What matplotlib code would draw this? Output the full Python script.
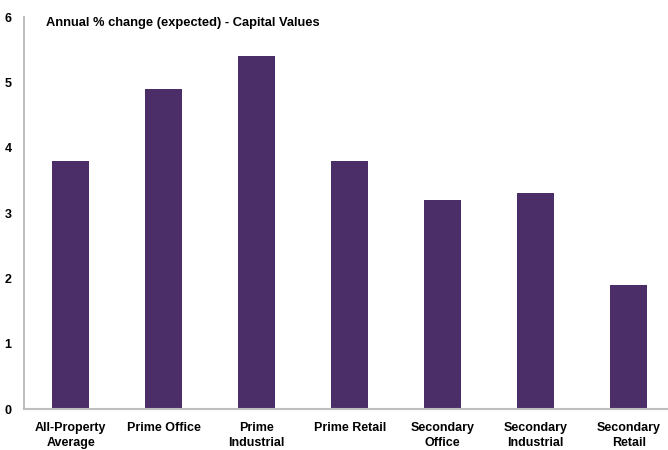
import matplotlib.pyplot as plt
import numpy as np

categories = ["All-Property\nAverage", "Prime Office", "Prime\nIndustrial", "Prime Retail",
              "Secondary\nOffice", "Secondary\nIndustrial", "Secondary\nRetail"]
values = [3.8, 4.9, 5.4, 3.8, 3.2, 3.3, 1.9]
yticks = [0, 1, 2, 3, 4, 5, 6]

BAR_COLOR = "#4B2E68"
AXIS_COLOR = "#BFBFBF"

plt.rcParams["font.family"] = ["Liberation Sans", "DejaVu Sans"]

fig = plt.figure(figsize=(6.68, 4.5), dpi=100)
ax = fig.add_axes([0.036, 0.091, 0.975, 0.871])

x = np.arange(len(categories))
ax.bar(x, values, width=0.4, color=BAR_COLOR)

ax.set_xlim(-0.5, len(categories) - 0.5)
ax.set_ylim(0, 6)
ax.set_yticks(yticks)
ax.set_yticklabels([str(t) for t in yticks], fontsize=9, fontweight="bold")
ax.set_xticks(x)
ax.set_xticklabels(categories, fontsize=9, fontweight="bold", linespacing=1.35)
ax.tick_params(axis="x", length=0, pad=9)
ax.tick_params(axis="y", length=0, pad=9)

for side in ["top", "right"]:
    ax.spines[side].set_visible(False)
for side in ["left", "bottom"]:
    ax.spines[side].set_color(AXIS_COLOR)
    ax.spines[side].set_linewidth(1.5)

ax.text(0.033, 0.985, "Annual % change (expected) - Capital Values", transform=ax.transAxes,
        fontsize=9.3, fontweight="bold", va="center", ha="left")

fig.savefig("out.png", dpi=100)
